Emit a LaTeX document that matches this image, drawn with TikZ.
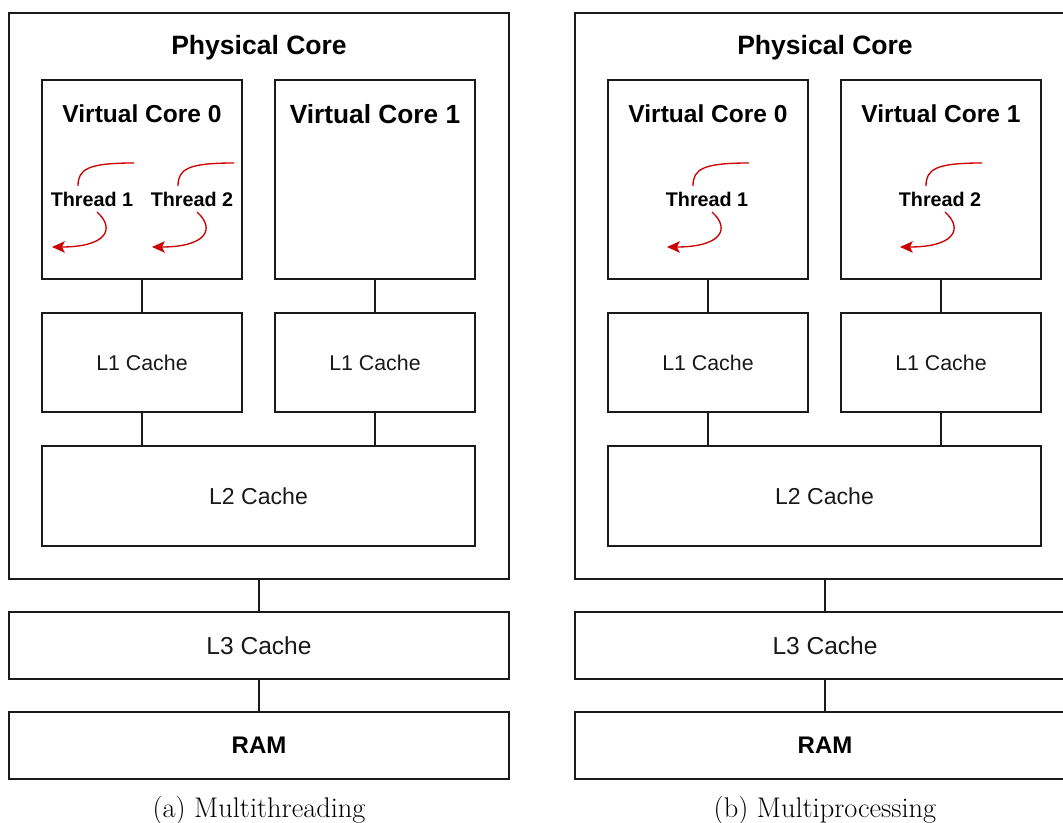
\documentclass[tikz,border=0pt]{standalone}
\usepackage{fontspec}
\newfontfamily\arialfont{Liberation Sans}
\usetikzlibrary{arrows.meta}
\definecolor{edge}{HTML}{1A1A1A}
\definecolor{threadred}{HTML}{CC0000}
\tikzset{
  box/.style={draw=edge, line width=1.1pt, rectangle, inner sep=0pt, fill=white},
  link/.style={draw=edge, line width=1.1pt},
  lbl/.style={font=\arialfont\fontsize{#1}{#1}\selectfont, inner sep=0pt, text=black!90},
  blbl/.style={font=\arialfont\bfseries\fontsize{#1}{#1}\selectfont, inner sep=0pt, text=black},
  caption/.style={font=\fontsize{21.3}{24}\selectfont, inner sep=0pt, anchor=base},
  flow/.style={draw=threadred, line width=1pt, -{Stealth[length=9.5pt,width=8.5pt,inset=2pt]}},
  flowin/.style={draw=threadred, line width=1pt},
}
% two curved strokes around a thread label
\newcommand\threadloop[1]{%
  \draw[flowin] ([shift={(42,-36)}]#1.center) .. controls ([shift={(-4,-36)}]#1.center) and ([shift={(-14,-30)}]#1.center) .. ([shift={(-14,-13)}]#1.center);
  \draw[flow] ([shift={(5,13)}]#1.center) .. controls ([shift={(24,30)}]#1.center) and ([shift={(14,48)}]#1.center) .. ([shift={(-40,48)}]#1.center);
}
\begin{document}
\begin{tikzpicture}[x=0.75pt,y=-0.75pt]
\clip (0,0) rectangle (1063,823);
\fill[white] (0,0) rectangle (1063,823);

% ---- left: multithreading ----
\node[box, minimum width=375pt, minimum height=424.5pt] (pcA) at (259,296) {};
\node[box, minimum width=150pt, minimum height=149.25pt] (vcA0) at (142,179.5) {};
\node[box, minimum width=150pt, minimum height=149.25pt] (vcA1) at (375,179.5) {};
\node[box, minimum width=150pt, minimum height=74.25pt] (l1A0) at (142,362.5) {};
\node[box, minimum width=150pt, minimum height=74.25pt] (l1A1) at (375,362.5) {};
\node[box, minimum width=324.75pt, minimum height=75pt] (l2A) at (258.5,496) {};
\node[box, minimum width=375pt, minimum height=50.25pt] (l3A) at (259,645.5) {};
\node[box, minimum width=375pt, minimum height=50.25pt] (ramA) at (259,745.5) {};

\draw[link] (vcA0.south) -- (l1A0.north);
\draw[link] (vcA1.south) -- (l1A1.north);
\draw[link] (l1A0.south) -- (l1A0.south |- l2A.north);
\draw[link] (l1A1.south) -- (l1A1.south |- l2A.north);
\draw[link] (pcA.south) -- (l3A.north);
\draw[link] (l3A.south) -- (ramA.north);

\node[blbl=19.9] (pcAt) at (259,48) {Physical Core};
\node[blbl=18.4] (vcA0t) at (142,114) {Virtual Core 0};
\node[blbl=19.7] (vcA1t) at (375,114) {Virtual Core 1};
\node[blbl=14.8] (thA1) at (92,199) {Thread 1};
\node[blbl=14.8] (thA2) at (192,199) {Thread 2};
\threadloop{thA1}
\threadloop{thA2}
\node[lbl=16] at (l1A0) {L1 Cache};
\node[lbl=16] at (l1A1) {L1 Cache};
\node[lbl=17.3] at (l2A) {L2 Cache};
\node[lbl=18.4] at (l3A) {L3 Cache};
\node[blbl=18] at (ramA) {RAM};
\node[caption] (capA) at (259,817) {(a) Multithreading};

% ---- right: multiprocessing ----
\node[box, minimum width=375pt, minimum height=424.5pt] (pcB) at (825,296) {};
\node[box, minimum width=150pt, minimum height=149.25pt] (vcB0) at (708,179.5) {};
\node[box, minimum width=150pt, minimum height=149.25pt] (vcB1) at (941,179.5) {};
\node[box, minimum width=150pt, minimum height=74.25pt] (l1B0) at (708,362.5) {};
\node[box, minimum width=150pt, minimum height=74.25pt] (l1B1) at (941,362.5) {};
\node[box, minimum width=324.75pt, minimum height=75pt] (l2B) at (824.5,496) {};
\node[box, minimum width=375pt, minimum height=50.25pt] (l3B) at (825,645.5) {};
\node[box, minimum width=375pt, minimum height=50.25pt] (ramB) at (825,745.5) {};

\draw[link] (vcB0.south) -- (l1B0.north);
\draw[link] (vcB1.south) -- (l1B1.north);
\draw[link] (l1B0.south) -- (l1B0.south |- l2B.north);
\draw[link] (l1B1.south) -- (l1B1.south |- l2B.north);
\draw[link] (pcB.south) -- (l3B.north);
\draw[link] (l3B.south) -- (ramB.north);

\node[blbl=19.9] (pcBt) at (825,48) {Physical Core};
\node[blbl=18.4] (vcB0t) at (708,114) {Virtual Core 0};
\node[blbl=18.4] (vcB1t) at (941,114) {Virtual Core 1};
\node[blbl=14.8] (thB1) at (707,199) {Thread 1};
\node[blbl=14.8] (thB2) at (940,199) {Thread 2};
\threadloop{thB1}
\threadloop{thB2}
\node[lbl=16] at (l1B0) {L1 Cache};
\node[lbl=16] at (l1B1) {L1 Cache};
\node[lbl=17.3] at (l2B) {L2 Cache};
\node[lbl=18.4] at (l3B) {L3 Cache};
\node[blbl=18] at (ramB) {RAM};
\node[caption] (capB) at (825,817) {(b) Multiprocessing};
\end{tikzpicture}
\end{document}
